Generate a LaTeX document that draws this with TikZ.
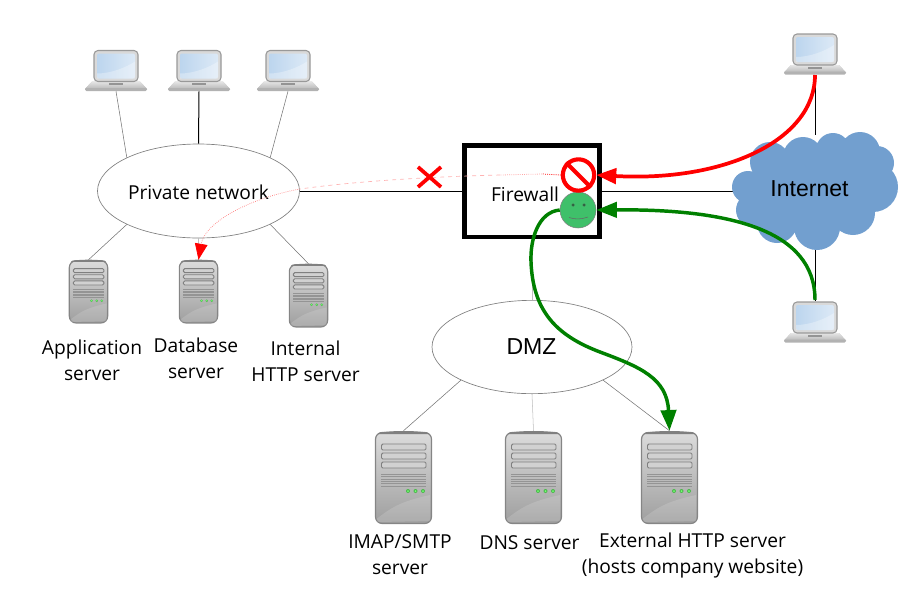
\documentclass[tikz,border=0pt]{standalone}
\usepackage{fontspec}
\setmainfont{Open Sans}
\newfontfamily\arialfont{Liberation Sans}
\usetikzlibrary{arrows.meta,shapes.geometric}
\definecolor{cloudblue}{HTML}{729FCF}
\definecolor{smile}{HTML}{3FC06A}
\definecolor{okgreen}{HTML}{008000}
\definecolor{scrleft}{HTML}{BCD5EE}
\definecolor{scrright}{HTML}{DCE9F6}
\tikzset{
  x=0.75pt,y=-0.75pt,
  link/.style={draw=black!55,line width=0.4pt},
  mainlink/.style={draw=black,line width=0.75pt},
  fadelink/.style={draw=black!25,line width=0.4pt},
  net/.style={ellipse,draw=black!50,line width=0.5pt,fill=white,inner sep=0pt},
  label/.style={align=center,font=\fontsize{14.4}{19.5}\selectfont,inner sep=0pt},
  biglabel/.style={font=\arialfont\fontsize{17.3}{20}\selectfont,inner sep=0pt},
  lapbox/.style={rectangle,minimum width=46.5pt,minimum height=30.75pt,inner sep=0pt},
  smallsrv/.style={rectangle,minimum width=29.25pt,minimum height=47.25pt,inner sep=0pt},
  bigsrv/.style={rectangle,minimum width=42.75pt,minimum height=69.75pt,inner sep=0pt},
  redflow/.style={draw=red,line width=2.8pt,-{Triangle[length=15pt,width=11.5pt]}},
  greenflow/.style={draw=okgreen,line width=2.6pt,-{Triangle[length=15.5pt,width=11.5pt]}},
  pics/laptop/.style={code={
    % base
    \fill[black!25,top color=black!10,bottom color=black!28] (-24,11) -- (24,11) -- (31,18.5) -- (-31,18.5) -- cycle;
    \fill[black!42] (-7,12.5) rectangle (7,14.5);
    \fill[black!30,rounded corners=1pt] (-31,17.5) rectangle (31,20.5);
    % screen
    \draw[draw=black!40,line width=0.8pt,fill=black!15,rounded corners=3pt] (-22,-20) rectangle (22,11);
    \shade[left color=scrleft,right color=scrright,rounded corners=1.5pt] (-19,-17) rectangle (19,8);
    \fill[white,opacity=0.3] (-19,3) .. controls (-5,3) and (10,-3) .. (19,-9) -- (19,8) -- (-19,8) -- cycle;
  }},
  pics/server/.style={code={
    \begin{scope}[shift={(-28.5,-46.5)}]
      \draw[draw=black!48,line width=0.9pt,top color=black!14,bottom color=black!38,rounded corners=5pt]
        (0.5,1.5) rectangle (56.5,92.5);
      \fill[black!50] (5,1.5) .. controls (18,-0.5) and (39,-0.5) .. (52,1.5) -- (54,3) -- (3,3) -- cycle;
      \fill[white,opacity=0.15] (1.5,88) .. controls (18,75) and (28,70) .. (55,64) -- (55,90) -- (3,91) -- cycle;
      \foreach \sy in {13,22,31}{
        \draw[draw=black!50,line width=0.7pt,fill=black!18,rounded corners=1pt] (6.5,\sy) rectangle (51,\sy+6);
      }
      \foreach \vy in {43,45.4,47.8,50.2,52.6,55}{
        \draw[black!42,line width=0.35pt] (6,\vy) -- (51,\vy);
      }
      \foreach \lx in {33,40.5,48}{
        \fill[green!60!black!70] (\lx,60) circle (2);
        \fill[green!55!white] (\lx,60) circle (1);
      }
    \end{scope}
  }},
}
\begin{document}
\begin{tikzpicture}
\useasboundingbox (0,0) rectangle (917,615);
% devices
\node[lapbox] (lapa) at (116,70.5) {};
\node[lapbox] (lapb) at (199,70.5) {};
\node[lapbox] (lapc) at (288,70.5) {};
\node[lapbox] (lapd) at (815,54) {};
\node[lapbox] (lape) at (815,322) {};
\node[smallsrv] (srva) at (88.5,291.5) {};
\node[smallsrv] (srvb) at (198.5,291.5) {};
\node[smallsrv] (srvc) at (308.5,295.5) {};
\node[bigsrv] (srvd) at (403.5,477.5) {};
\node[bigsrv] (srve) at (533.5,477.5) {};
\node[bigsrv] (srvf) at (669.5,477.5) {};
\node[net,minimum width=151.5pt,minimum height=70.5pt] (priv) at (198.5,191) {};
\node[net,minimum width=150pt,minimum height=70pt] (dmz) at (532,347) {};
\node[rectangle,minimum width=100.5pt,minimum height=68.25pt,inner sep=0pt] (fw) at (532,191) {};
\coordinate (cloudw) at (735,191);
\coordinate (cloudn) at (815,135);
\coordinate (clouds) at (815,250);
% connectors
\draw[link] (lapa.south) -- (priv.155);
\draw[mainlink] (lapb.south) -- (priv.north);
\draw[link] (lapc.south) -- (priv.25);
\draw[link] (priv.205) -- (srva.north);
\draw[fadelink] (priv.south) -- (srvb.north);
\draw[link] (priv.335) -- (srvc.north);
\draw[mainlink] (priv.east) -- (fw.west);
\draw[mainlink] (fw.east) -- (cloudw);
\draw[mainlink] (lapd.south) -- (cloudn);
\draw[mainlink] (clouds) -- (lape.north);
\draw[fadelink] (fw.south) -- (dmz.north);
\draw[link] (dmz.205) -- (srvd.north);
\draw[fadelink] (dmz.south) -- (srve.north);
\draw[link] (dmz.335) -- (srvf.north);
% device drawings
\foreach \n in {lapa,lapb,lapc,lapd,lape}{ \pic at (\n) {laptop}; }
\foreach \n in {srva,srvb,srvc}{ \pic[scale=0.684] at (\n) {server}; }
\foreach \n in {srvd,srve,srvf}{ \pic at (\n) {server}; }
% cloud
\begin{scope}
  \fill[cloudblue] (748,187) circle (16) (770,162) circle (20) (803,157) circle (20)
    (833,150) circle (17) (860,152) circle (20) (877,163) circle (17) (873,187) circle (25)
    (853,213) circle (22) (817,227) circle (23) (777,223) circle (20) (753,210) circle (17)
    (810,190) ellipse (55 and 38);
\end{scope}
\node[biglabel] (inet) at (809.5,189) {Internet};
% firewall box
\draw[draw=black,line width=3.4pt,fill=white] (fw.south west) rectangle (fw.north east);
% labels
\node[label] (lpriv) at (198.5,192) {Private network};
\node[label] (lfw) at (525,194) {Firewall};
\node[biglabel] (ldmz) at (531.5,347) {DMZ};
\node[label] (lsa) at (92,360) {Application\\server};
\node[label] (lsb) at (196,358) {Database\\server};
\node[label] (lsc) at (305.5,361) {Internal\\HTTP server};
\node[label] (lsd) at (400,555) {IMAP/SMTP\\server};
\node[label] (lse) at (529.5,543) {DNS server};
\node[label] (lsf) at (692.5,556) {External HTTP server\\(hosts company website)};
% firewall marks
\node[circle,draw=black!50,line width=0.4pt,fill=smile,minimum size=27pt,inner sep=0pt] (happy) at (578,210) {};
\fill[black!50!smile,draw=black!60,line width=0.2pt] (573,203.5) -- (574.5,205) -- (573,206.5) -- (571.5,205) -- cycle;
\fill[black!50!smile,draw=black!60,line width=0.2pt] (584,203.5) -- (585.5,205) -- (584,206.5) -- (582.5,205) -- cycle;
\draw[black!60,line width=0.4pt] (569,217.5) .. controls (575,219.5) and (581,219.5) .. (588,217);
\node[circle,draw=red,line width=3.1pt,fill=white,minimum size=23.5pt,inner sep=0pt] (stopm) at (578.5,175) {};
\draw[red,line width=3.1pt] (stopm.135) -- (stopm.315);
% flows
\coordinate (redout) at (815,75);
\coordinate (grnout) at (815,300);
\draw[redflow] (redout) .. controls (815,140) and (725,182) .. (stopm.east);
\draw[greenflow] (grnout) .. controls (815,230) and (730,209) .. (happy.east);
\draw[greenflow] (happy.west) .. controls (538,212) and (530,240) .. (531,262)
  .. controls (533,310) and (555,335) .. (600,352)
  .. controls (640,367) and (667,378) .. (srvf.north);
% blocked route
\coordinate (blocka) at (500,175);
\coordinate (blockb) at (300,189);
\draw[red,line width=0.6pt,densely dotted] (stopm.west) -- (542,174);
\draw[red!35,line width=0.6pt,densely dotted] (542,174) -- (blocka);
\draw[red!30,line width=0.5pt,dashed] (blocka) .. controls (420,177) and (350,182) .. (blockb);
\draw[red!55,line width=0.5pt,densely dotted,-{Triangle[length=12pt,width=9.5pt,color=red]}]
  (blockb) .. controls (250,198) and (205,222) .. (srvb.north);
\draw[red,line width=2.8pt] (418,167) -- (441,187) (441,167) -- (418,187);
\end{tikzpicture}
\end{document}
